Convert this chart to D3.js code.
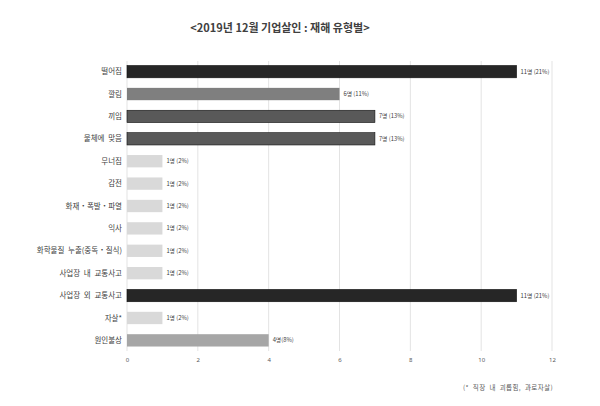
<!DOCTYPE html>
<html><head><meta charset="utf-8">
<script src="https://cdn.jsdelivr.net/npm/d3@7"></script>
<style>body{margin:0;background:#fff;}svg{display:block;font-family:"Noto Sans CJK KR","Noto Sans",sans-serif;}</style>
</head><body><svg id="c" width="600" height="406"></svg>
<script>
const categories = ["떨어짐","깔림","끼임","물체에 맞음","무너짐","감전","화재・폭발・파열","익사","화학물질 누출(중독・질식)","사업장 내 교통사고","사업장 외 교통사고","자살*","원인불상"];
const values = [11,6,7,7,1,1,1,1,1,1,11,1,4];
const valueLabels = ["11명 (21%)","6명 (11%)","7명 (13%)","7명 (13%)","1명 (2%)","1명 (2%)","1명 (2%)","1명 (2%)","1명 (2%)","1명 (2%)","11명 (21%)","1명 (2%)","4명(8%)"];
const barColors = ["#262626","#7f7f7f","#595959","#595959","#d9d9d9","#d9d9d9","#d9d9d9","#d9d9d9","#d9d9d9","#d9d9d9","#262626","#d9d9d9","#a6a6a6"];
const ticks = [0,2,4,6,8,10,12];
const title = "<2019년 12월 기업살인 : 재해 유형별>";
const footnote = "(* 직장 내 괴롭힘, 과로자살)";

const svg = d3.select("#c");
const x = d3.scaleLinear().domain([0,12]).range([127,552]);
const y = d3.scaleBand().domain(categories).range([61,351]).paddingInner(0.45).paddingOuter(0.2);

svg.append("text").attr("x",280).attr("y",32).attr("text-anchor","middle")
  .attr("font-size",11).attr("font-weight","bold").attr("fill","#404040").text(title);

const g = svg.append("g");
g.selectAll("line.grid").data(ticks).join("line")
  .attr("x1",d=>x(d)).attr("x2",d=>x(d)).attr("y1",61).attr("y2",351)
  .attr("stroke","#e3e3e3").attr("stroke-width",1);

const xAxis = d3.axisBottom(x).tickValues(ticks).tickSize(0).tickPadding(7);
const ax = svg.append("g").attr("transform","translate(0,351)").call(xAxis);
ax.select(".domain").remove();
ax.selectAll("text").attr("font-size",6).attr("fill","#595959").attr("font-family","'Noto Sans',sans-serif");

g.selectAll("rect.bar").data(categories).join("rect")
  .attr("x",x(0)).attr("y",d=>y(d)).attr("height",y.bandwidth())
  .attr("width",(d,i)=>x(values[i])-x(0)).attr("fill",(d,i)=>barColors[i])
  .attr("stroke",(d,i)=>values[i]>=7?"#111":"none").attr("stroke-width",0.6);

g.selectAll("text.cat").data(categories).join("text")
  .attr("x",122).attr("y",d=>y(d)+y.bandwidth()/2).attr("dy","0.35em")
  .attr("text-anchor","end").attr("font-size",7.5).attr("fill","#404040")
  .style("word-spacing","2px").text(d=>d);

g.selectAll("text.val").data(categories).join("text")
  .attr("x",(d,i)=>x(values[i])+4).attr("y",d=>y(d)+y.bandwidth()/2).attr("dy","0.35em")
  .attr("font-size",5.8).attr("fill","#404040").text((d,i)=>valueLabels[i]);

svg.append("text").attr("x",553).attr("y",390).attr("text-anchor","end")
  .attr("font-size",6.5).attr("fill","#595959").style("word-spacing","2px")
  .style("letter-spacing","0.4px").text(footnote);
</script></body></html>
